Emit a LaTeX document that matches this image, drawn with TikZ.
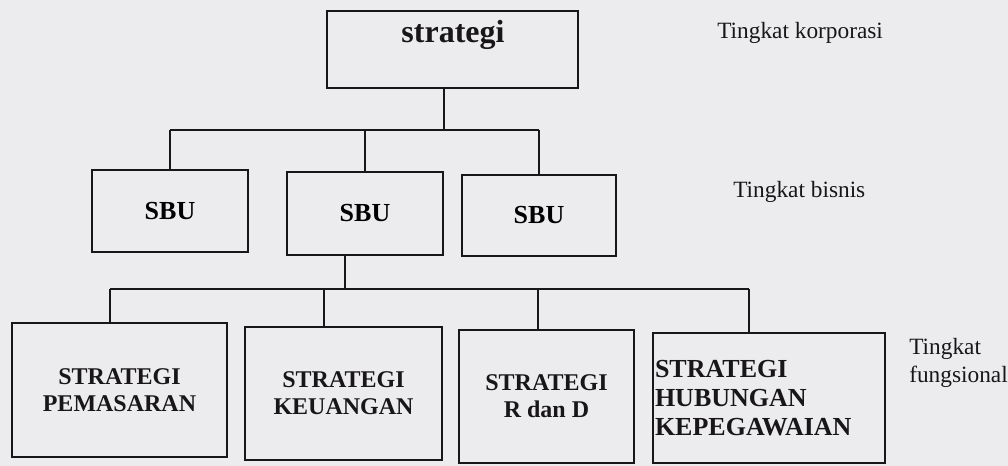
\documentclass[tikz,border=0pt]{standalone}
\usepackage{fontspec}
\setmainfont{Liberation Serif}
\definecolor{paper}{RGB}{236,236,239}
\definecolor{ink}{RGB}{25,22,25}
\begin{document}
\begin{tikzpicture}[x=0.75pt,y=-0.75pt,
  box/.style={draw=ink,line width=1.3pt,rectangle,inner sep=0pt,font=\bfseries},
  lbl/.style={font=\fontsize{17.5}{21}\selectfont,text=ink,inner sep=0pt},
  conn/.style={draw=ink,line width=1.3pt},
  ftext/.style={font=\fontsize{18}{20.5}\selectfont\bfseries,align=center,text=ink}]
\fill[paper] (0,0) rectangle (1008,466);
\useasboundingbox (0,0) rectangle (1008,466);
% boxes
\node[box,minimum width=188.25pt,minimum height=57.75pt] (corp) at (452.5,49.5) {};
\node[font=\fontsize{24}{28}\selectfont\bfseries,text=ink,inner sep=0pt] (corptxt) at (453,35) {strategi};
\node[box,minimum width=117pt,minimum height=61.5pt,font=\fontsize{19.5}{22}\selectfont\bfseries] (sbu1) at (170,211) {SBU};
\node[box,minimum width=117pt,minimum height=62.25pt,font=\fontsize{19.5}{22}\selectfont\bfseries] (sbu2) at (365,213.5) {SBU};
\node[box,minimum width=115.5pt,minimum height=60.75pt,font=\fontsize{19.5}{22}\selectfont\bfseries] (sbu3) at (539,215.5) {SBU};
\node[box,ftext,minimum width=161.25pt,minimum height=100.5pt] (f1) at (119.5,390) {STRATEGI\\PEMASARAN};
\node[box,ftext,minimum width=147.75pt,minimum height=99.75pt] (f2) at (343.5,393.5) {STRATEGI\\KEUANGAN};
\node[box,ftext,minimum width=131.25pt,minimum height=99.75pt] (f3) at (546.5,396.5) {STRATEGI\\R dan D};
\node[box,font=\fontsize{19.5}{22}\selectfont\bfseries,text=ink,align=left,text width=171pt,inner xsep=1.5pt,minimum height=97.5pt] (f4) at (769,398) {STRATEGI\\HUBUNGAN\\KEPEGAWAIAN};
% level labels
\node[lbl,anchor=west] (l1) at (717,33) {Tingkat korporasi};
\node[lbl,anchor=west] (l2) at (733,192) {Tingkat bisnis};
\node[lbl,anchor=west,align=left] (l3) at (909,363) {Tingkat\\fungsional};
% connectors
\coordinate (c0) at (444,130);
\coordinate (d0) at (345,289);
\coordinate (d1) at (110,289);
\coordinate (d2) at (324,289);
\coordinate (d3) at (538,289);
\coordinate (d4) at (749,289);
\draw[conn] (c0 |- corp.south) -- (c0);
\draw[conn] (sbu1.north |- c0) -- (sbu3.north |- c0);
\draw[conn] (sbu1.north) -- (sbu1.north |- c0);
\draw[conn] (sbu2.north) -- (sbu2.north |- c0);
\draw[conn] (sbu3.north) -- (sbu3.north |- c0);
\draw[conn] (d0 |- sbu2.south) -- (d0);
\draw[conn] (d1) -- (d4);
\draw[conn] (d1) -- (d1 |- f1.north);
\draw[conn] (d2) -- (d2 |- f2.north);
\draw[conn] (d3) -- (d3 |- f3.north);
\draw[conn] (d4) -- (d4 |- f4.north);
\end{tikzpicture}
\end{document}
